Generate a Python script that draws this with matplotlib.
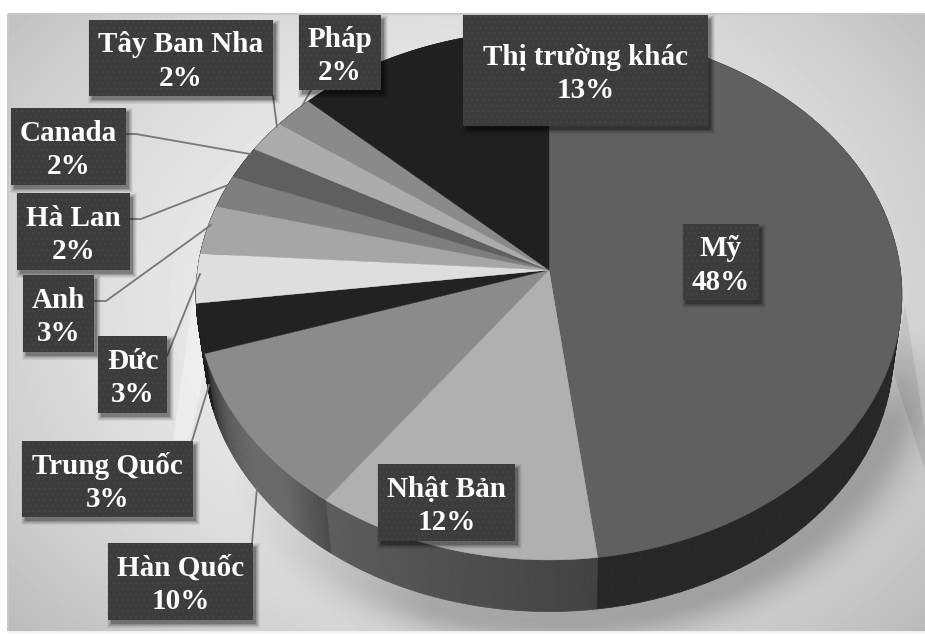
import numpy as np
import matplotlib
matplotlib.use("Agg")
import matplotlib.pyplot as plt
from matplotlib.patches import Polygon, Rectangle

# Data (clockwise from 12 o'clock)
markets = ["Mỹ", "Nhật Bản", "Hàn Quốc", "Trung Quốc", "Đức", "Anh",
           "Hà Lan", "Canada", "Tây Ban Nha", "Pháp", "Thị trường khác"]
shares = [48, 12, 10, 3, 3, 3, 2, 2, 2, 2, 13]

# Slice colours
top_colors = ["#606060", "#b0b0b0", "#8b8b8b", "#222222", "#dedede", "#a6a6a6",
              "#7f7f7f", "#5f5f5f", "#acacac", "#8a8a8a", "#202020"]
side_stops = {0: [0x27, 0x27], 1: [0x42, 0x5c], 2: [0x4c, 0x68, 0x68, 0x58, 0x30], 3: [0x1c, 0x1c]}

# Label boxes: x0, y0, x1, y1 in pixels
boxes = [(683, 224, 759, 300), (378, 464, 515, 541), (108, 543, 253, 620),
         (22, 441, 193, 517), (98, 336, 167, 413), (23, 275, 94, 352),
         (17, 193, 130, 270), (11, 108, 126, 185), (89, 20, 273, 96),
         (299, 15, 381, 90), (463, 15, 708, 126)]

# Leader lines for the labels outside the pie
leaders = {
    "Hàn Quốc": [(252, 543), (257, 488)],
    "Trung Quốc": [(192, 441), (209, 385)],
    "Đức": [(167, 356), (200, 274)],
    "Anh": [(94, 301), (106, 301), (211, 225)],
    "Hà Lan": [(130, 219), (141, 219), (228, 185)],
    "Canada": [(126, 134), (136, 134), (250, 154)],
    "Tây Ban Nha": [(273, 96), (277, 127)],
    "Pháp": [(311, 90), (302, 106)],
}

W, H = 925, 634
K = 0.0943  # perspective of the tilted disc


def rim(theta, a, b, y0):
    # angle clockwise from top -> pixel position on the tilted circle
    u = np.sin(theta)
    v = -np.cos(theta)
    d = 1 - K * v
    return 549 + a * u / d, y0 + b * v / d


def top_rim(theta):
    return rim(theta, 351.4, 262.6, 270)


def low_rim(theta):
    return rim(theta, 342.6, 255.9, 329)


def background():
    yy, xx = np.mgrid[0:H, 0:W].astype(float)
    r2 = ((xx - 460) / 560) ** 2 + ((yy - 300) / 440) ** 2
    g = 240 - 44 * r2

    # soft shadow under the front of the pie
    dist = (np.sqrt(((xx - 549) / 350) ** 2 + ((yy - 358) / 262) ** 2) - 1) * 300
    front = np.clip((yy - 330) / 90, 0, 1) * np.clip((xx - 230) / 200, 0, 1)
    g -= 52 * np.exp(-(np.clip(dist, 0, None) / 30) ** 2) * front

    # white outside the panel
    g[:14, :] = 255
    g[:, :8] = 255
    g[631:, :] = 255
    g[13:15, 8:] = 200
    g[14:631, 7:9] = 200
    g[631:633, 8:] = 240
    return g


def draw_box(ax, box, label, share):
    x0, y0, x1, y1 = box
    for grow, alpha in [(4, 0.05), (3, 0.07), (2, 0.09), (1, 0.12), (0, 0.2)]:
        ax.add_patch(Rectangle((x0 + 3 - grow, y0 + 4 - grow), x1 - x0 + 2 * grow, y1 - y0 + 2 * grow,
                               facecolor="black", edgecolor="none", alpha=alpha, zorder=5))
    ax.add_patch(Rectangle((x0, y0), x1 - x0, y1 - y0, facecolor="#3c3c3c", edgecolor="#4a4a4a",
                           linewidth=0, hatch="...", zorder=6))
    ax.text((x0 + x1) / 2, (y0 + y1) / 2 + 3.5, f"{label}\n{share}%", color="white", ha="center", va="center",
            family="Liberation Serif", fontweight="bold", fontsize=21, linespacing=1.33, zorder=7)


plt.rcParams["hatch.linewidth"] = 0.4
fig = plt.figure(figsize=(W / 100, H / 100), dpi=100)
ax = fig.add_axes([0, 0, 1, 1])
ax.imshow(background(), cmap="gray", vmin=0, vmax=255, extent=(0, W, H, 0), aspect="auto", zorder=0)

# light and dark reflections beside the pie
ax.add_patch(Polygon([(197, 270), (173, 440), (190, 440), (207, 360)], facecolor="white", edgecolor="none",
                     alpha=0.35, zorder=1))
ax.add_patch(Polygon([(905, 305), (925, 430), (925, 470), (893, 372)], facecolor="black", edgecolor="none",
                     alpha=0.08, zorder=1))

edges = np.cumsum([0] + shares) / sum(shares) * 2 * np.pi

# side wall first, the top faces hide the back part of it
for i in range(len(shares)):
    stops = side_stops.get(i, [0x30, 0x30])
    t = np.linspace(edges[i], edges[i + 1], 80)
    levels = np.interp(np.linspace(0, 1, 79), np.linspace(0, 1, len(stops)), stops)
    for k in range(79):
        xa, ya = top_rim(t[k:k + 2])
        xb, yb = low_rim(t[k:k + 2])
        pts = list(zip(xa, ya)) + list(zip(xb[::-1], yb[::-1]))
        c = str(levels[k] / 255)
        ax.add_patch(Polygon(pts, facecolor=c, edgecolor=c, linewidth=0.5, zorder=2))

# top faces
for i in range(len(shares)):
    t = np.linspace(edges[i], edges[i + 1], 120)
    x, y = top_rim(t)
    pts = [(549, 270)] + list(zip(x, y))
    ax.add_patch(Polygon(pts, facecolor=top_colors[i], edgecolor=top_colors[i], linewidth=0.3, zorder=3))

for name, pts in leaders.items():
    ax.plot(*zip(*pts), color="#777777", linewidth=1.3, zorder=4)

for box, label, share in zip(boxes, markets, shares):
    draw_box(ax, box, label, share)

ax.set_xlim(0, W)
ax.set_ylim(H, 0)
ax.axis("off")
fig.savefig("out.png", dpi=100)
